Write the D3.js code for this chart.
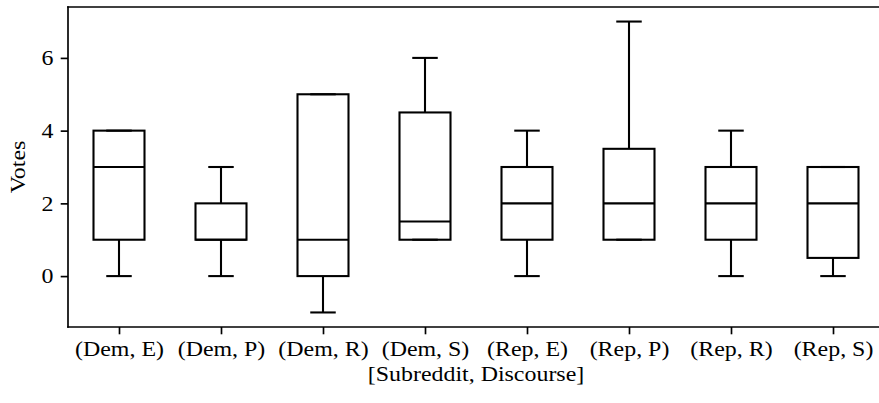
<!DOCTYPE html>
<html>
<head>
<meta charset="utf-8">
<script src="https://cdn.jsdelivr.net/npm/d3@7"></script>
<style>
  html, body { margin: 0; padding: 0; background: #fff; }
  svg { display: block; }
  text { font-family: "Liberation Serif", "Times New Roman", serif; fill: #000; }
</style>
</head>
<body>
<svg id="chart" width="879" height="403"></svg>
<script>
// ---- data ----
const categories = ["(Dem, E)", "(Dem, P)", "(Dem, R)", "(Dem, S)", "(Rep, E)", "(Rep, P)", "(Rep, R)", "(Rep, S)"];
const whiskerLow  = [0, 0, -1, 1,   0, 1,   0, 0];
const q1          = [1, 1,  0, 1,   1, 1,   1, 0.5];
const medians     = [3, 1,  1, 1.5, 2, 2,   2, 2];
const q3          = [4, 2,  5, 4.5, 3, 3.5, 3, 3];
const whiskerHigh = [4, 3,  5, 6,   4, 7,   4, 3];
const yTicks = [0, 2, 4, 6];
const xLabel = "[Subreddit, Discourse]";
const yLabel = "Votes";

// ---- layout ----
const svg = d3.select("#chart");
const pLeft = 68, pRight = 884, pTop = 7, pBottom = 327;
const fontSize = 20.8;
const sx = 1.15; // horizontal widening to approximate Computer Modern proportions
const lw = 2.08, spineW = 1.67, tickLen = 7.3, tickPad = 7.3;

const x = d3.scaleLinear().domain([0.5, categories.length + 0.5]).range([pLeft, pRight]);
const y = d3.scaleLinear().domain([-1.4, 7.4]).range([pBottom, pTop]);

const boxes = categories.map((c, i) => ({
  pos: i + 1, lo: whiskerLow[i], q1: q1[i], med: medians[i], q3: q3[i], hi: whiskerHigh[i]
}));

const boxW = 0.5, capW = 0.25;
const g = svg.append("g");

boxes.forEach(b => {
  const gb = g.append("g").attr("fill", "none").attr("stroke", "#000").attr("stroke-width", lw);
  gb.append("line").attr("x1", x(b.pos)).attr("x2", x(b.pos)).attr("y1", y(b.q1)).attr("y2", y(b.lo));
  gb.append("line").attr("x1", x(b.pos)).attr("x2", x(b.pos)).attr("y1", y(b.q3)).attr("y2", y(b.hi));
  gb.append("line").attr("x1", x(b.pos - capW / 2)).attr("x2", x(b.pos + capW / 2)).attr("y1", y(b.lo)).attr("y2", y(b.lo));
  gb.append("line").attr("x1", x(b.pos - capW / 2)).attr("x2", x(b.pos + capW / 2)).attr("y1", y(b.hi)).attr("y2", y(b.hi));
  gb.append("rect")
    .attr("x", x(b.pos - boxW / 2)).attr("width", x(b.pos + boxW / 2) - x(b.pos - boxW / 2))
    .attr("y", y(b.q3)).attr("height", y(b.q1) - y(b.q3));
  gb.append("line").attr("x1", x(b.pos - boxW / 2)).attr("x2", x(b.pos + boxW / 2)).attr("y1", y(b.med)).attr("y2", y(b.med));
});

// spines
const sp = svg.append("g").attr("stroke", "#000").attr("stroke-width", spineW).attr("fill", "none");
sp.append("line").attr("x1", pLeft).attr("x2", pLeft).attr("y1", pTop).attr("y2", pBottom).attr("stroke-linecap", "square");
sp.append("line").attr("x1", pLeft).attr("x2", pRight).attr("y1", pTop).attr("y2", pTop).attr("stroke-linecap", "square");
sp.append("line").attr("x1", pLeft).attr("x2", pRight).attr("y1", pBottom).attr("y2", pBottom).attr("stroke-linecap", "square");
sp.append("line").attr("x1", pRight).attr("x2", pRight).attr("y1", pTop).attr("y2", pBottom);

// y axis
const yAxis = svg.append("g").attr("transform", `translate(${pLeft},0)`)
  .call(d3.axisLeft(y).tickValues(yTicks).tickFormat(d3.format("d")).tickSize(tickLen).tickPadding(tickPad));
yAxis.select(".domain").remove();
yAxis.selectAll(".tick line").attr("stroke", "#000").attr("stroke-width", spineW);
yAxis.selectAll(".tick text")
  .attr("font-size", fontSize).attr("font-family", null)
  .attr("x", -(tickLen + tickPad) / sx)
  .attr("transform", `scale(${sx},1)`);

// x axis
const xAxis = svg.append("g").attr("transform", `translate(0,${pBottom})`)
  .call(d3.axisBottom(x).tickValues(d3.range(1, categories.length + 1))
    .tickFormat(d => categories[d - 1]).tickSize(tickLen).tickPadding(tickPad));
xAxis.select(".domain").remove();
xAxis.selectAll(".tick line").attr("stroke", "#000").attr("stroke-width", spineW);
xAxis.selectAll(".tick text")
  .attr("font-size", fontSize).attr("font-family", null)
  .attr("transform", `scale(${sx},1)`);

// axis labels
svg.append("text")
  .attr("transform", `translate(${(pLeft + pRight) / 2},381) scale(${sx},1)`)
  .attr("text-anchor", "middle").attr("font-size", fontSize)
  .text(xLabel);

svg.append("text")
  .attr("transform", `translate(25,${(pTop + pBottom) / 2}) rotate(-90) scale(${sx},1)`)
  .attr("text-anchor", "middle").attr("font-size", fontSize)
  .text(yLabel);
</script>
</body>
</html>
